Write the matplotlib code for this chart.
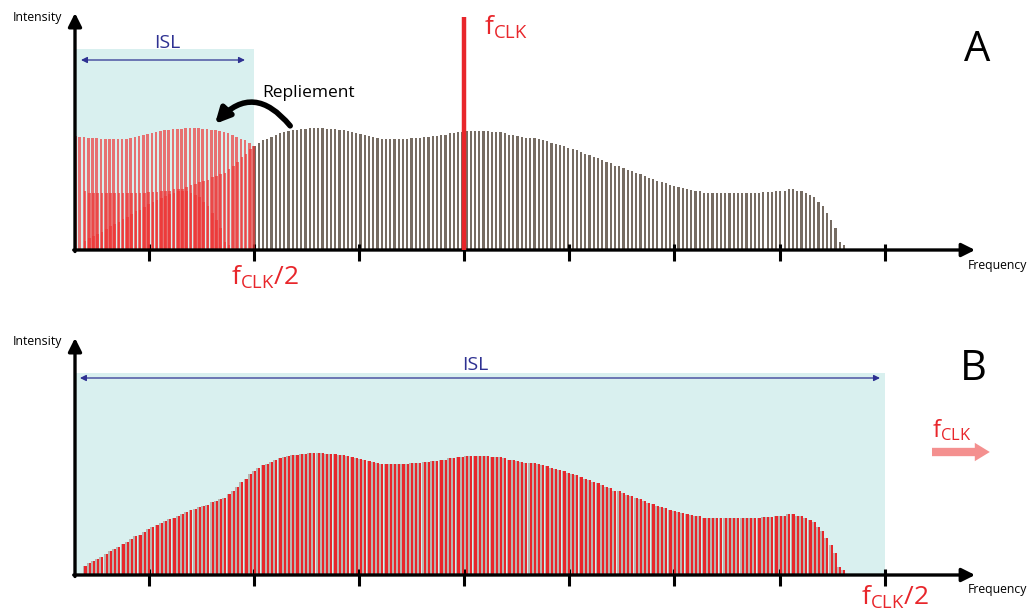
import numpy as np
import matplotlib
matplotlib.use("Agg")
import matplotlib.pyplot as plt
from matplotlib.patches import Rectangle, FancyArrowPatch

plt.rcParams['font.family'] = ['Open Sans', 'DejaVu Sans']
plt.rcParams['mathtext.fontset'] = 'custom'
plt.rcParams['mathtext.rm'] = 'Open Sans'

# Spectrum envelope, one value per frequency bin (arbitrary intensity units)
spectrum = [
    9, 12, 14, 16, 18, 21, 24, 26, 28, 31, 33, 36, 39, 40, 43, 46, 48, 50,
    52, 54, 56, 57, 59, 61, 63, 65, 66, 68, 69, 70, 73, 74, 76, 77, 81, 84,
    88, 93, 96, 101, 104, 107, 110, 111, 113, 115, 117, 118, 119, 120, 120,
    121, 121, 122, 122, 122, 122, 121, 121, 121, 120, 120, 119, 118, 117,
    116, 115, 114, 113, 112, 111, 111, 111, 111, 111, 111, 111, 112, 112,
    112, 113, 113, 114, 114, 115, 115, 117, 117, 118, 118, 119, 119, 119,
    119, 119, 119, 118, 118, 118, 117, 115, 115, 114, 113, 112,
    112, 112, 111, 110, 109, 107, 106, 105, 104, 102, 101, 100, 98, 96, 95,
    93, 92, 90, 88, 87, 84, 84, 82, 80, 79, 77, 76, 74, 72, 71, 69, 68, 67,
    65, 64, 63, 62, 61, 60, 59, 59, 57, 57, 57, 57, 57, 57, 57, 57, 57, 57,
    57, 57, 57, 57, 58, 58, 58, 59, 59, 59, 61, 61, 59, 59, 57, 55, 53, 48,
    44, 37, 30, 22, 8, 5,
]
clock_peak = 233
tick_pos = [1, 2, 3, 4, 5, 6, 7, 8]
half_clk = 2      # f_CLK/2 in panel A
clk = 4           # f_CLK in panel A
half_clk_b = 8    # f_CLK/2 in panel B (faster clock)
alias_shift = 145  # bins folded back from the far end of the spectrum

RED = '#e8262b'
GREY = '#766c63'
CYAN = '#d9f0ef'
BLUE = '#2e3192'

PX = 105.1                    # pixels per tick unit
x0 = 1 - 149 / PX             # left edge of the figure in tick units
x1 = 1 + (1032 - 149) / PX
origin = 1 + (75 - 149) / PX
f0 = 1 + (85 - 149) / PX
df = 4.24 / PX
w = 2.2 / PX

spec = np.array(spectrum, dtype=float)
freq = f0 + df * np.arange(len(spec))

fig = plt.figure(figsize=(10.32, 6.10), dpi=100)
axA = fig.add_axes([0, 0.5, 1, 0.5])
axB = fig.add_axes([0, 0, 1, 0.5])
axA.set_xlim(x0, x1)
axA.set_ylim(-55, 250)
axB.set_xlim(x0, x1)
axB.set_ylim(-35, 270)
for ax in (axA, axB):
    ax.axis('off')


def draw_axes(ax, top, xtip):
    ax.annotate('', xy=(origin, top), xytext=(origin, -1.5),
                arrowprops=dict(arrowstyle='-|>', lw=2.4, color='k',
                                mutation_scale=20, shrinkA=0, shrinkB=0))
    ax.annotate('', xy=(xtip, 0), xytext=(origin - 0.012, 0),
                arrowprops=dict(arrowstyle='-|>', lw=2.4, color='k',
                                mutation_scale=20, shrinkA=0, shrinkB=0))
    for t in tick_pos:
        ax.plot([t, t], [-11, 6], color='k', lw=2.2, solid_capstyle='butt')
    ax.text(origin - 0.12, top - 4, 'Intensity', ha='right', va='center',
            fontsize=8.8)
    ax.text(8.79, -15, 'Frequency', ha='left', va='center', fontsize=8.8)


# ---- panel A : undersampled, spectrum folds back into the ISL ----
axA.add_patch(Rectangle((origin, 0), half_clk - origin, 201, color=CYAN,
                        lw=0, zorder=0))
above = freq >= half_clk
axA.bar(freq[above], spec[above], width=w, color=GREY, lw=0, zorder=2)

below = ~above
red_kw = dict(width=w * 1.2, color='#ee3535', alpha=0.68, lw=0, zorder=3)
# baseband part
axA.bar(freq[below], spec[below], **red_kw)
# first fold around f_CLK/2
mirror = 2 * half_clk - freq[above]
keep = mirror > origin
axA.bar(mirror[keep], spec[above][keep], **red_kw)
# higher order alias
n_alias = len(spec) - alias_shift
axA.bar(freq[:n_alias], spec[alias_shift:], **red_kw)

axA.plot([clk, clk], [0, clock_peak], color=RED, lw=3.2, zorder=4,
         solid_capstyle='butt')
draw_axes(axA, 237, 8.86)

axA.annotate('', xy=(1.913, 190), xytext=(0.353, 190),
             arrowprops=dict(arrowstyle='<|-|>', lw=0.9, color=BLUE,
                             mutation_scale=9, shrinkA=0, shrinkB=0))
axA.text(1.17, 207, 'ISL', ha='center', va='center', fontsize=14, color=BLUE)

axA.text(2.52, 157, 'Repliement', ha='center', va='center', fontsize=12.5)
axA.add_patch(FancyArrowPatch((2.36, 122), (1.61, 124),
                              connectionstyle='arc3,rad=0.6',
                              arrowstyle='-|>', mutation_scale=22, lw=4,
                              color='k', zorder=6))

axA.text(4.19, 223, r'$\mathregular{f_{CLK}}$', ha='left', va='center',
         fontsize=19, color=RED)
axA.text(2.10, -27, r'$\mathregular{f_{CLK}/2}$', ha='center', va='center',
         fontsize=19, color=RED)
axA.text(8.88, 200, 'A', ha='center', va='center', fontsize=30)

# ---- panel B : sampling fast enough, whole spectrum in the ISL ----
axB.add_patch(Rectangle((origin, 0), half_clk_b - origin, 202, color=CYAN,
                        lw=0, zorder=0))
axB.bar(freq - 0.8 / PX, spec, width=3.4 / PX, color='#b9b4b0', lw=0,
        zorder=2)
axB.bar(freq + 0.4 / PX, spec, width=2.2 / PX, color=RED, lw=0, zorder=3)
draw_axes(axB, 237, 8.86)

axB.annotate('', xy=(7.955, 197), xytext=(0.343, 197),
             arrowprops=dict(arrowstyle='<|-|>', lw=0.9, color=BLUE,
                             mutation_scale=9, shrinkA=0, shrinkB=0))
axB.text(4.10, 210, 'ISL', ha='center', va='center', fontsize=14, color=BLUE)
axB.text(8.10, -22, r'$\mathregular{f_{CLK}/2}$', ha='center', va='center',
         fontsize=19, color=RED)
axB.text(8.84, 206, 'B', ha='center', va='center', fontsize=30)
axB.annotate('', xy=(9.0, 123), xytext=(8.45, 123),
             arrowprops=dict(arrowstyle='simple,head_length=0.9,head_width=1.1,tail_width=0.5',
                             color='#f4908f', lw=0, mutation_scale=12,
                             shrinkA=0, shrinkB=0))
axB.text(8.45, 145, r'$\mathregular{f_{CLK}}$', ha='left', va='center',
         fontsize=17, color=RED)

fig.savefig('out.png', dpi=100)
